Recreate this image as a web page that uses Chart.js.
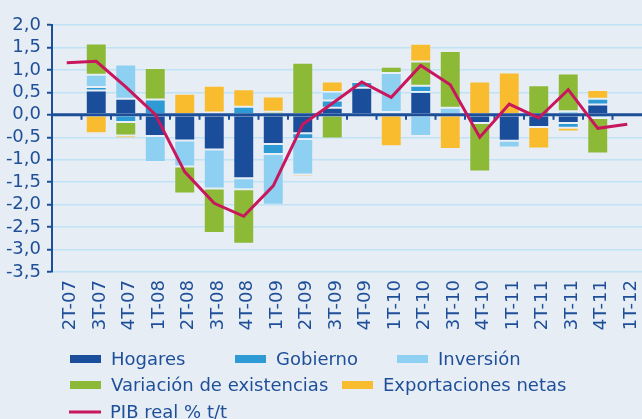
<!DOCTYPE html>
<html>
<head>
<meta charset="utf-8">
<script src="https://cdn.jsdelivr.net/npm/chart.js@4/dist/chart.umd.min.js"></script>
<style>
  html, body { margin: 0; padding: 0; background: #e6edf5; }
  #wrap { width: 642px; height: 419px; }
</style>
</head>
<body>
<div id="wrap"><canvas id="grafico" width="642" height="419"></canvas></div>
<script>
// Trimestres
const trimestres = ['2T-07', '3T-07', '4T-07', '1T-08', '2T-08', '3T-08', '4T-08', '1T-09', '2T-09', '3T-09',
  '4T-09', '1T-10', '2T-10', '3T-10', '4T-10', '1T-11', '2T-11', '3T-11', '4T-11', '1T-12'];

// Contribuciones (pp)
const hogares = [null, 0.54, 0.36, -0.47, -0.57, -0.77, -1.41, -0.65, -0.41, 0.16, 0.60, 0, 0.51, 0, -0.18, -0.58, -0.27, -0.18, 0.23, null];
const gobierno = [null, 0.08, -0.16, 0.34, 0, 0.05, 0.18, -0.22, -0.13, 0.16, 0.13, 0.06, 0.14, 0, 0, 0, 0, -0.11, 0.13, null];
const inversion = [null, 0.27, 0.76, -0.58, -0.58, -0.87, -0.25, -1.13, -0.79, 0.19, 0.05, 0.87, -0.47, 0.16, 0, -0.15, 0, 0.08, -0.07, null];
const existencias = [null, 0.70, -0.30, 0.70, -0.60, -0.99, -1.21, 0.07, 1.16, -0.53, 0, 0.14, 0.54, 1.26, -1.08, 0, 0.66, 0.84, -0.79, null];
const exportaciones = [null, -0.41, -0.06, 0, 0.47, 0.60, 0.39, 0.34, -0.05, 0.23, -0.03, -0.70, 0.39, -0.76, 0.74, 0.94, -0.48, -0.08, 0.19, null];

// PIB real % t/t
const pib = [1.16, 1.19, 0.62, 0.01, -1.27, -1.97, -2.26, -1.58, -0.21, 0.25, 0.73, 0.39, 1.10, 0.67, -0.50, 0.24, -0.07, 0.56, -0.30, -0.21];

// Eje Y
const ticksY = [2.0, 1.5, 1.0, 0.5, 0.0, -0.5, -1.0, -1.5, -2.0, -2.5, -3.0, -3.5];

const azulTexto = '#1f4f98';
const azulEje = '#1d4f99';

// fondo + linea de cero + leyenda propia
const fondo = {
  id: 'fondo',
  beforeDraw(chart) {
    const c = chart.ctx;
    c.save();
    c.fillStyle = '#e6edf5';
    c.fillRect(0, 0, chart.width, chart.height);
    c.restore();
  }
};

const lineaCero = {
  id: 'lineaCero',
  afterDatasetDraw(chart, args) {
    if (args.index !== 0) return;
    const c = chart.ctx;
    const x = chart.scales.x;
    const y0 = chart.scales.y.getPixelForValue(0);
    c.save();
    c.strokeStyle = azulEje;
    c.lineWidth = 3;
    c.beginPath();
    c.moveTo(chart.chartArea.left, y0);
    c.lineTo(chart.width, y0);
    c.stroke();
    c.lineWidth = 2;
    for (let i = 0; i < trimestres.length - 1; i++) {
      const xb = (x.getPixelForValue(i) + x.getPixelForValue(i + 1)) / 2;
      c.beginPath();
      c.moveTo(xb, y0);
      c.lineTo(xb, y0 + 5);
      c.stroke();
    }
    c.restore();
  }
};

const leyenda = {
  id: 'leyenda',
  afterDraw(chart) {
    const c = chart.ctx;
    const pos = [[70, 359], [235, 359], [397, 359], [70, 385], [342, 385], [69, 412]];
    c.save();
    c.font = '18px "DejaVu Sans"';
    c.textBaseline = 'middle';
    chart.data.datasets.forEach((ds, i) => {
      const [lx, ly] = pos[i];
      if (ds.type === 'line') {
        c.strokeStyle = ds.borderColor;
        c.lineWidth = 3;
        c.beginPath();
        c.moveTo(lx, ly);
        c.lineTo(lx + 32, ly);
        c.stroke();
      } else {
        c.fillStyle = ds.backgroundColor;
        c.fillRect(lx, ly - 4, 31, 8);
      }
      c.fillStyle = azulTexto;
      c.fillText(ds.label, lx + 41, ly + 1);
    });
    c.restore();
  }
};

function barra(label, data, color) {
  return {
    type: 'bar',
    label: label,
    data: data,
    backgroundColor: color,
    borderColor: 'rgba(255,255,255,0.12)',
    borderWidth: 1,
    borderSkipped: false,
    barPercentage: 0.71,
    categoryPercentage: 1,
    order: 1
  };
}

const ctx = document.getElementById('grafico').getContext('2d');
const grafico = new Chart(ctx, {
  data: {
    labels: trimestres,
    datasets: [
      barra('Hogares', hogares, '#1a4e9b'),
      barra('Gobierno', gobierno, '#2f9bd5'),
      barra('Inversión', inversion, '#8ed0f2'),
      barra('Variación de existencias', existencias, '#8cb936'),
      barra('Exportaciones netas', exportaciones, '#f9bc2e'),
      {
        type: 'line',
        label: 'PIB real % t/t',
        data: pib,
        borderColor: '#c8175d',
        borderWidth: 3,
        pointRadius: 0,
        tension: 0,
        stack: 'pib',
        order: 0
      }
    ]
  },
  options: {
    responsive: false,
    animation: false,
    layout: { padding: { top: 25, right: -3, bottom: 77, left: 0 } },
    plugins: {
      legend: { display: false },
      tooltip: { enabled: false }
    },
    scales: {
      x: {
        stacked: true,
        grid: { display: false, drawTicks: false },
        border: { display: false },
        ticks: {
          color: azulTexto,
          font: { family: 'DejaVu Sans', size: 18 },
          minRotation: 90,
          maxRotation: 90,
          padding: 8,
          labelOffset: 4,
          autoSkip: false
        },
        afterFit(scale) {
          scale.height = 70;
          scale.paddingLeft = 0;
          scale.paddingRight = 0;
        }
      },
      y: {
        stacked: true,
        min: -3.5,
        max: 2.0,
        afterBuildTicks(scale) { scale.ticks = ticksY.map(v => ({ value: v })); },
        grid: {
          color: '#bfe2f5',
          lineWidth: 1.5,
          tickColor: azulEje,
          tickWidth: 2,
          tickLength: 5
        },
        border: { color: azulEje, width: 2 },
        ticks: {
          color: azulTexto,
          font: { family: 'DejaVu Sans', size: 18 },
          padding: 6,
          autoSkip: false,
          callback: v => v.toFixed(1).replace('.', ',')
        },
        afterFit(scale) { scale.width = 52; }
      }
    }
  },
  plugins: [fondo, lineaCero, leyenda]
});
</script>
</body>
</html>
